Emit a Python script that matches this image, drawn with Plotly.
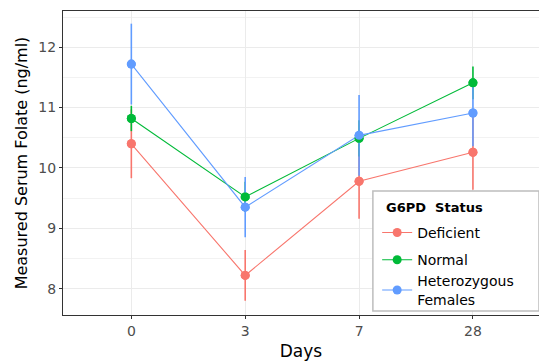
import plotly.graph_objects as go

days = ["0", "3", "7", "28"]
groups = ["Deficient", "Normal", "Heterozygous<br>Females"]
deficient = [10.40, 8.22, 9.78, 10.26]
deficient_err = [0.57, 0.42, 0.62, 0.62]
normal = [10.82, 9.52, 10.49, 11.41]
normal_err = [0.21, 0.25, 0.30, 0.27]
hetero = [11.72, 9.35, 10.54, 10.91]
hetero_err = [0.67, 0.50, 0.67, 0.55]
colors = ["#F8766D", "#00BA38", "#619CFF"]
legend_title = "G6PD\u00a0 Status"

series = [(deficient, deficient_err), (normal, normal_err), (hetero, hetero_err)]
legend_groups = ["g1", "g2", "g2"]
FONT = "DejaVu Sans"

fig = go.Figure()
# connecting lines (with legend entries)
for (vals, err), name, c, lg in zip(series, groups, colors, legend_groups):
    fig.add_trace(go.Scatter(x=days, y=vals, mode="lines+markers", name=name,
                             legendgroup=lg,
                             line=dict(color=c, width=1.1),
                             marker=dict(color=c, size=9)))
# error ranges
for (vals, err), name, c in zip(series, groups, colors):
    fig.add_trace(go.Scatter(x=days, y=vals, mode="markers", showlegend=False,
                             marker=dict(color=c, size=9, opacity=0),
                             error_y=dict(type="data", array=err, width=0,
                                          thickness=1.6, color=c)))
# points on top
for (vals, err), name, c in zip(series, groups, colors):
    fig.add_trace(go.Scatter(x=days, y=vals, mode="markers", showlegend=False,
                             marker=dict(color=c, size=9)))

axis_common = dict(showline=True, linecolor="#333333", linewidth=1,
                   ticks="outside", ticklen=3, tickcolor="#333333", tickwidth=1,
                   gridcolor="#EBEBEB", gridwidth=1, zeroline=False, automargin=False,
                   tickfont=dict(family=FONT, size=14, color="#4D4D4D"))

# legend frame (paper coordinates of the plot panel)
fig.add_shape(type="rect", xref="paper", yref="paper", x0=0.651, x1=1.0, y0=0.013, y1=0.408,
              fillcolor="white", line=dict(color="#BDBDBD", width=1.5), layer="above")
fig.add_annotation(text="<b>" + legend_title + "</b>", xref="paper", yref="paper",
                   x=0.674, y=0.355, xanchor="left", yanchor="middle", showarrow=False,
                   font=dict(family=FONT, size=13, color="black"))

fig.update_layout(
    width=539, height=361,
    margin=dict(l=63, r=0, t=11, b=46),
    paper_bgcolor="white", plot_bgcolor="white",
    font=dict(family=FONT, color="black"),
    xaxis=dict(type="category", range=[-0.6, 3.58], mirror=True,
               title=dict(text="Days", font=dict(family=FONT, size=17, color="black"), standoff=9),
               **axis_common),
    yaxis=dict(range=[7.564, 12.60], tick0=8, dtick=1, mirror=False,
               title=dict(text="Measured Serum Folate (ng/ml)",
                          font=dict(family=FONT, size=16, color="black"), standoff=6),
               minor=dict(showgrid=True, gridcolor="#F2F2F2", dtick=0.5, tick0=8, ticks=""),
               **axis_common),
    legend=dict(x=0.66, y=0.3226, xanchor="left", yanchor="top",
                bgcolor="rgba(0,0,0,0)", borderwidth=0,
                font=dict(family=FONT, size=14, color="black"),
                tracegroupgap=6),
)

fig.write_html("out.html", config={"displayModeBar": False},
               post_script="document.body.style.margin='0';document.body.style.overflow='hidden';")
